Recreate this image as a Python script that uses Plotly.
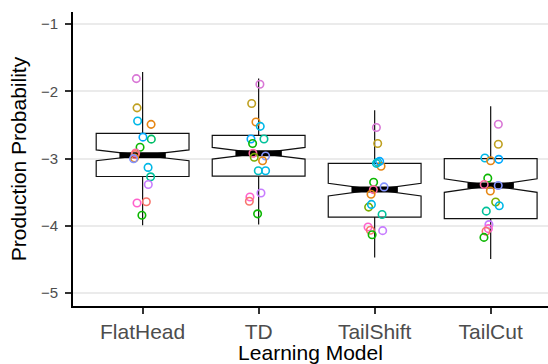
import plotly.graph_objects as go

# ---------------- data ----------------
models = ["FlatHead", "TD", "TailShift", "TailCut"]
box_q1 = [-3.265, -3.26, -3.87, -3.89]
box_median = [-2.95, -2.92, -3.46, -3.40]
box_q3 = [-2.625, -2.655, -3.07, -3.00]
box_lower = [-3.99, -3.98, -4.47, -4.49]
box_upper = [-1.71, -1.81, -2.28, -2.22]
box_notch = [0.08, 0.087, 0.095, 0.10]

# jittered individual points: value, horizontal jitter (category units), colour group
flathead_vals = [-1.81, -2.245, -2.44, -2.49, -2.68, -2.71, -2.83, -2.915, -2.94, -2.99, -3.00,
                 -3.13, -3.27, -3.385, -3.66, -3.64, -3.84]
flathead_jit = [-0.054, -0.048, -0.043, 0.073, 0.003, 0.075, -0.022, -0.060, -0.065, -0.070, -0.078,
                0.047, 0.069, 0.049, -0.048, 0.032, -0.006]
flathead_grp = ["M", "OL", "SK", "O", "B", "TG", "G", "RS", "R", "O", "PB",
                "SK", "T", "V", "P", "R", "G"]

td_vals = [-1.893, -2.18, -2.454, -2.52, -2.707, -2.707, -2.775, -2.92, -2.98, -2.96, -3.03,
           -3.18, -3.18, -3.51, -3.57, -3.634, -3.82]
td_jit = [0.011, -0.060, -0.023, 0.014, -0.066, 0.046, -0.052, -0.049, -0.038, 0.060, 0.034,
          -0.003, 0.060, 0.020, -0.075, -0.080, -0.009]
td_grp = ["M", "OL", "O", "SK", "B", "T", "G", "RS", "YG", "PB", "O",
          "C", "SK", "V", "P", "R", "G"]

tailshift_vals = [-2.537, -2.775, -3.054, -3.113, -3.04, -3.07, -3.35, -3.42, -3.46, -3.53,
                  -3.72, -3.68, -3.83, -4.016, -4.065, -4.13, -4.07]
tailshift_jit = [0.015, 0.026, 0.026, 0.055, 0.043, 0.015, -0.009, 0.081, -0.011, -0.031,
                 -0.052, -0.028, 0.064, -0.057, -0.037, -0.022, 0.069]
tailshift_grp = ["M", "OL", "SK", "O", "B", "C", "G", "PB", "RS", "O",
                 "YG", "SK", "T", "P", "R", "G", "V"]

tailcut_vals = [-2.488, -2.786, -2.99, -3.03, -3.01, -3.29, -3.385, -3.40, -3.48, -3.645,
                -3.70, -3.78, -3.98, -4.04, -4.08, -4.17]
tailcut_jit = [0.066, 0.066, -0.050, 0.0, 0.070, -0.025, -0.056, 0.065, -0.003, 0.043,
               0.074, -0.038, -0.015, -0.020, -0.040, -0.058]
tailcut_grp = ["M", "OL", "SK", "O", "B", "G", "RS", "PB", "O", "YG",
               "SK", "T", "V", "P", "R", "G"]

palette = {"R": "#F8766D", "O": "#E68613", "OL": "#BFA020", "YG": "#7CAE00", "G": "#0CB702",
           "TG": "#00BE67", "T": "#00C19A", "C": "#00BFC4", "SK": "#00B8E7", "B": "#00A9FF",
           "PB": "#8494FF", "V": "#C77CFF", "M": "#D977D6", "P": "#FF61CC", "RS": "#FF68A1"}

point_sets = [(flathead_vals, flathead_jit, flathead_grp),
              (td_vals, td_jit, td_grp),
              (tailshift_vals, tailshift_jit, tailshift_grp),
              (tailcut_vals, tailcut_jit, tailcut_grp)]

# ---------------- figure ----------------
pos = list(range(len(models)))
fig = go.Figure()

fig.add_trace(go.Box(
    x=pos, q1=box_q1, median=box_median, q3=box_q3,
    lowerfence=box_lower, upperfence=box_upper, notchspan=box_notch,
    notched=True, notchwidth=0.5, width=0.8, whiskerwidth=0,
    boxpoints=False, fillcolor="white",
    line=dict(color="#111111", width=1.2), showlegend=False, hoverinfo="skip"))

# thick median bars (ggplot style)
mx, my = [], []
for p, m in zip(pos, box_median):
    mx += [p - 0.2, p + 0.2, None]
    my += [m, m, None]
fig.add_trace(go.Scatter(x=mx, y=my, mode="lines", line=dict(color="black", width=6),
                         showlegend=False, hoverinfo="skip"))

for p, (vals, jit, grp) in zip(pos, point_sets):
    fig.add_trace(go.Scatter(
        x=[p + j for j in jit], y=vals, mode="markers",
        marker=dict(symbol="circle-open", size=7.5, color=[palette[g] for g in grp],
                    line=dict(width=1.6)),
        showlegend=False))

font_family = "Liberation Sans, Arial, Helvetica, sans-serif"
fig.update_layout(
    width=548, height=364,
    margin=dict(l=73, r=0, t=12, b=58),
    paper_bgcolor="white", plot_bgcolor="white",
    font=dict(family=font_family, color="black"),
    showlegend=False,
)
fig.update_xaxes(
    range=[-0.6, 3.494], tickvals=pos, ticktext=models,
    showgrid=False, zeroline=False,
    showline=True, linecolor="black", linewidth=2,
    ticks="outside", ticklen=6, tickwidth=2, tickcolor="#333333",
    tickfont=dict(size=21, color="#4d4d4d", family=font_family),
    title=dict(text="Learning Model", font=dict(size=21, color="black"), standoff=6),
)
fig.update_yaxes(
    range=[-5.19, -0.82], tickvals=[-5, -4, -3, -2, -1],
    ticktext=["\u22125", "\u22124", "\u22123", "\u22122", "\u22121"],
    showgrid=True, gridcolor="#EBEBEB", gridwidth=1.5, zeroline=False,
    showline=True, linecolor="black", linewidth=2,
    ticks="outside", ticklen=6, tickwidth=2, tickcolor="#333333",
    ticklabelstandoff=4,
    tickfont=dict(size=15, color="#4d4d4d", family=font_family),
    title=dict(text="Production Probability", font=dict(size=21, color="black"), standoff=9),
)

fig.write_html("out.html")
